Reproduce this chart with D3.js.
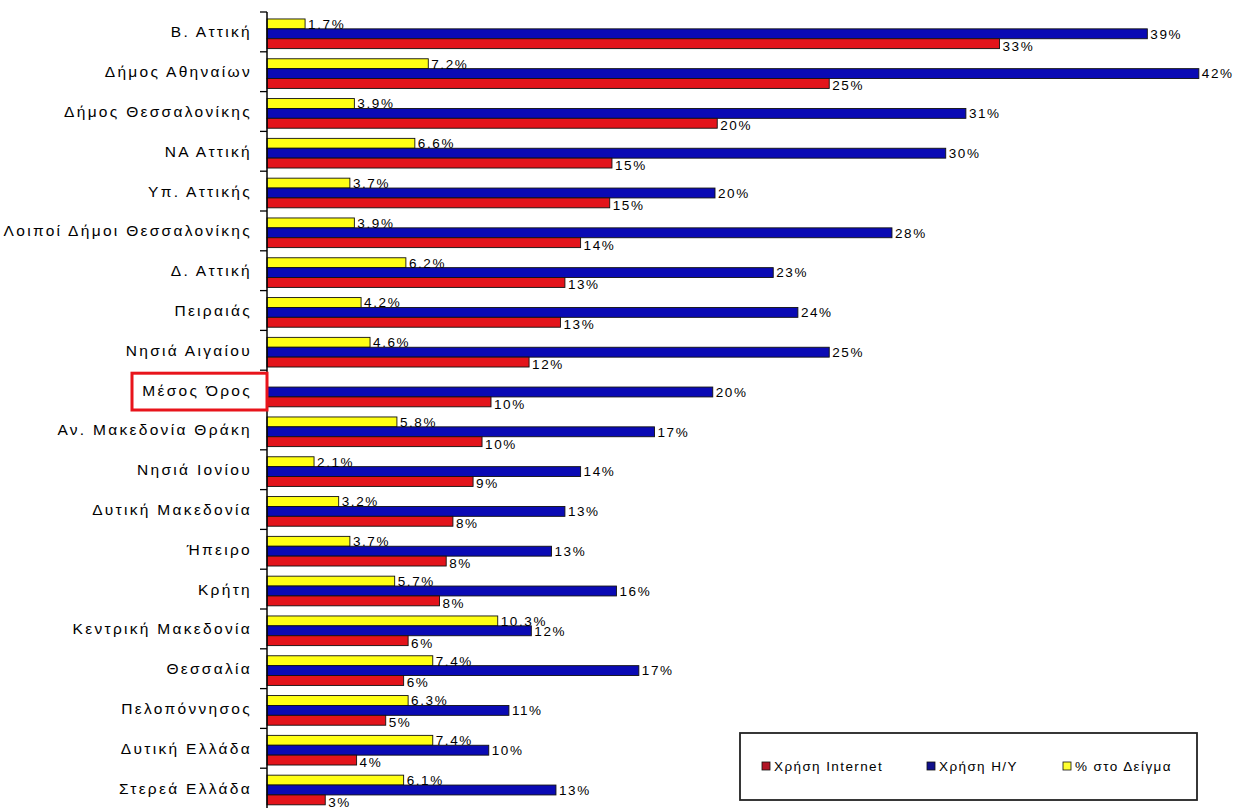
<!DOCTYPE html>
<html>
<head>
<meta charset="utf-8">
<script src="https://cdn.jsdelivr.net/npm/d3@7"></script>
<style>
  html, body { margin: 0; padding: 0; background: #fff; }
  svg { display: block; }
  text { font-family: "Liberation Sans", Arial, sans-serif; fill: #000; }
</style>
</head>
<body>
<svg id="chart" width="1247" height="808"></svg>
<script>
const categories = [
  "Β. Αττική", "Δήμος Αθηναίων", "Δήμος Θεσσαλονίκης", "ΝΑ Αττική", "Υπ. Αττικής",
  "Λοιποί Δήμοι Θεσσαλονίκης", "Δ. Αττική", "Πειραιάς", "Νησιά Αιγαίου", "Μέσος Όρος",
  "Αν. Μακεδονία Θράκη", "Νησιά Ιονίου", "Δυτική Μακεδονία", "Ήπειρο", "Κρήτη",
  "Κεντρική Μακεδονία", "Θεσσαλία", "Πελοπόννησος", "Δυτική Ελλάδα", "Στερεά Ελλάδα"
];
const sampleShare = [1.7, 7.2, 3.9, 6.6, 3.7, 3.9, 6.2, 4.2, 4.6, null, 5.8, 2.1, 3.2, 3.7, 5.7, 10.3, 7.4, 6.3, 7.4, 6.1];
const pcUse       = [39.3, 41.6, 31.2, 30.3, 20.0, 27.9, 22.6, 23.7, 25.1, 19.9, 17.3, 14.0, 13.3, 12.7, 15.6, 11.8, 16.6, 10.8, 9.9, 12.9];
const internetUse = [32.7, 25.1, 20.1, 15.4, 15.3, 14.0, 13.3, 13.1, 11.7, 10.0, 9.6, 9.2, 8.3, 8.0, 7.7, 6.3, 6.1, 5.3, 4.0, 2.6];
const highlighted = "Μέσος Όρος";

const seriesKeys   = ["sample", "pc", "internet"];            // top-to-bottom order within a group
const seriesNames  = {internet: "Χρήση Internet", pc: "Χρήση Η/Υ", sample: "% στο Δείγμα"};
const seriesColors = {internet: "#e3141b", pc: "#0a0ab4", sample: "#ffff14"};
const legendColors = {internet: "#b01425", pc: "#10108c", sample: "#ffff30"};
const legendOrder  = ["internet", "pc", "sample"];

const rows = categories.map((c, i) => ({
  cat: c, sample: sampleShare[i], pc: pcUse[i], internet: internetUse[i]
}));

const svg = d3.select("#chart");
const axisX = 267, plotTop = 12, plotBottom = 808;

const x = d3.scaleLinear().domain([0, 45]).range([axisX, axisX + 45 * 22.4]);
const y = d3.scaleBand().domain(categories).range([plotTop, plotBottom]).padding(0);
const bw = y.bandwidth();
const ys = d3.scaleBand().domain(seriesKeys).range([bw * 0.175, bw * 0.92]).padding(0);

const fmt = {sample: v => d3.format(".1f")(v) + "%", pc: v => d3.format(".0f")(v) + "%", internet: v => d3.format(".0f")(v) + "%"};

// Bars
const groups = svg.append("g").selectAll("g").data(rows).join("g")
  .attr("transform", d => `translate(0,${y(d.cat)})`);

groups.selectAll("rect")
  .data(d => seriesKeys.filter(k => d[k] != null).map(k => ({key: k, value: d[k]})))
  .join("rect")
  .attr("x", x(0))
  .attr("y", d => ys(d.key))
  .attr("width", d => x(d.value) - x(0))
  .attr("height", ys.bandwidth())
  .attr("fill", d => seriesColors[d.key])
  .attr("stroke", "#111")
  .attr("stroke-width", 0.9);

// Value labels
const labelsG = svg.append("g").selectAll("g").data(rows).join("g")
  .attr("transform", d => `translate(0,${y(d.cat)})`);
labelsG.selectAll("text")
  .data(d => seriesKeys.filter(k => d[k] != null).map(k => ({key: k, value: d[k]})))
  .join("text")
  .attr("x", d => x(d.value) + 3)
  .attr("y", d => ys(d.key) + ys.bandwidth() / 2 + (d.key === "internet" ? 2 : 0))
  .attr("dy", "0.36em")
  .style("font-size", "13.5px")
  .style("letter-spacing", "1.6px")
  .text(d => fmt[d.key](d.value));

// Category axis
svg.append("line")
  .attr("x1", axisX).attr("x2", axisX)
  .attr("y1", plotTop).attr("y2", plotBottom)
  .attr("stroke", "#000").attr("stroke-width", 1.5);

svg.append("g").selectAll("line").data(categories).join("line")
  .attr("x1", axisX - 7).attr("x2", axisX)
  .attr("y1", d => y(d)).attr("y2", d => y(d))
  .attr("stroke", "#000").attr("stroke-width", 1.3);

svg.append("g").selectAll("text").data(categories).join("text")
  .attr("x", 252)
  .attr("y", d => y(d) + bw / 2)
  .attr("dy", "0.36em")
  .attr("text-anchor", "end")
  .style("font-size", "15.5px")
  .style("letter-spacing", "2.3px")
  .text(d => d);

// Highlight box around the average
svg.append("rect")
  .attr("x", 132)
  .attr("y", y(highlighted) + 3)
  .attr("width", axisX - 132)
  .attr("height", bw - 3)
  .attr("fill", "none")
  .attr("stroke", "#e8141b")
  .attr("stroke-width", 3);

// Legend
const lg = svg.append("g").attr("transform", "translate(740,733)");
lg.append("rect").attr("width", 457).attr("height", 67)
  .attr("fill", "#fff").attr("stroke", "#222").attr("stroke-width", 1.8);
const itemX = {internet: 22, pc: 187, sample: 323};
const li = lg.selectAll("g.item").data(legendOrder).join("g")
  .attr("class", "item")
  .attr("transform", d => `translate(${itemX[d]},33)`);
li.append("rect").attr("x", 0).attr("y", -4).attr("width", 8).attr("height", 8)
  .attr("fill", d => legendColors[d]).attr("stroke", "#111").attr("stroke-width", 0.8);
li.append("text").attr("x", 12).attr("y", 0).attr("dy", "0.36em")
  .style("font-size", "13.5px").style("letter-spacing", "1.4px")
  .text(d => seriesNames[d]);
</script>
</body>
</html>
